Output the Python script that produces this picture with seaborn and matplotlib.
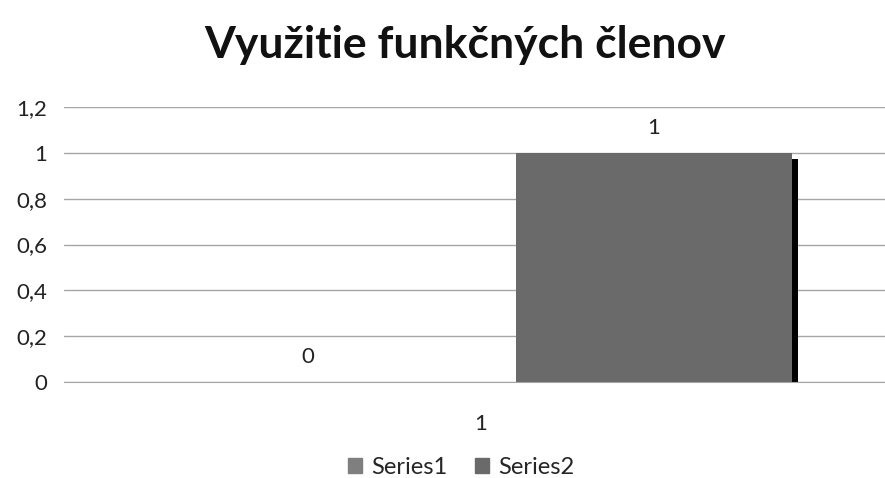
import matplotlib
matplotlib.use('Agg')
import matplotlib.pyplot as plt
import matplotlib.patheffects as pe
from matplotlib.ticker import FuncFormatter
import pandas as pd
import seaborn as sns

categories = ['1']
series_names = ['Series1', 'Series2']
series1 = [0]
series2 = [1]
colors = ['#7f7f7f', '#6a6a6a']

df = pd.DataFrame({
    'kategoria': categories * 2,
    'seria': [series_names[0]] * len(series1) + [series_names[1]] * len(series2),
    'hodnota': series1 + series2,
})

sns.set_style('white')
plt.rcParams['font.family'] = ['Lato', 'DejaVu Sans']

fig = plt.figure(figsize=(8.85, 4.78), dpi=100)
ax = fig.add_axes([64 / 885, 96 / 478, 1 - 64 / 885, 275 / 478])

sns.barplot(data=df, x='kategoria', y='hodnota', hue='seria', palette=colors,
            width=0.8, gap=0.2, ax=ax, legend=False)

# black shadow under the bars (Excel look)
for bar in ax.patches:
    bar.set_path_effects([pe.SimplePatchShadow(offset=(4.3, -4.3), shadow_rgbFace='black', alpha=1.0),
                          pe.Normal()])
    bar.set_linewidth(0)

for cont in ax.containers:
    ax.bar_label(cont, fmt='%g', padding=11, fontsize=16, color='#222222')

ax.set_xlim(-0.482, 0.467)
ax.set_ylim(0, 1.2)
ax.set_yticks([0, 0.2, 0.4, 0.6, 0.8, 1.0, 1.2])
ax.yaxis.set_major_formatter(FuncFormatter(lambda v, p: ('%g' % round(v, 2)).replace('.', ',')))
ax.yaxis.grid(True, color='#a6a6a6', linewidth=1)
ax.set_axisbelow(True)
for s in ['top', 'right', 'left']:
    ax.spines[s].set_visible(False)
ax.spines['bottom'].set_color('#a6a6a6')
ax.tick_params(axis='y', length=0, pad=12, labelsize=16, labelcolor='#222222')
ax.tick_params(axis='x', length=0, pad=23, labelsize=16, labelcolor='#222222')
ax.set_xlabel('')
ax.set_ylabel('')

fig.text(0.525, 0.905, 'Využitie funkčných členov', ha='center', va='center',
         fontsize=32, fontweight='bold', color='#111111')

handles = [plt.Rectangle((0, 0), 1, 1, color=c) for c in colors]
fig.legend(handles, series_names, loc='center', bbox_to_anchor=(0.521, 0.022), ncol=2, frameon=False,
           fontsize=17, handlelength=0.6, handleheight=0.6, handletextpad=0.35, columnspacing=1.2,
           borderpad=0)

fig.savefig('out.png', dpi=100)
